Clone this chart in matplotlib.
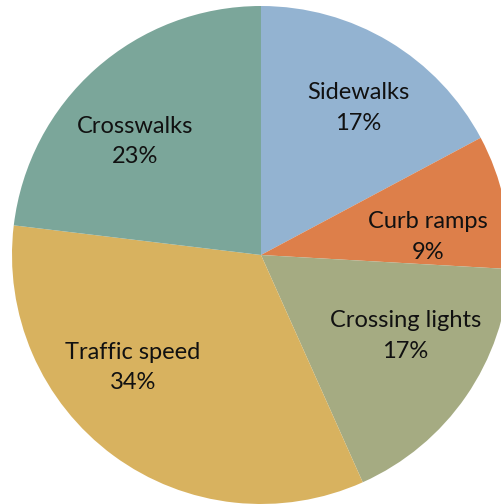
import matplotlib
matplotlib.use("Agg")
import matplotlib.pyplot as plt
import numpy as np

categories = ["Sidewalks", "Curb ramps", "Crossing lights", "Traffic speed", "Crosswalks"]
values = [17.2, 8.7, 17.4, 33.6, 23.1]
colors = ["#93B3D1", "#DD7F4A", "#A5AB82", "#D8B25F", "#7BA69A"]

# label centres in axes data units (pie radius = 1)
label_pos = [(0.39, 0.59), (0.67, 0.072), (0.58, -0.325), (-0.515, -0.452), (-0.505, 0.455)]

fig = plt.figure(figsize=(5.01, 5.04), dpi=100)
ax = fig.add_axes([12 / 501, 0 / 504, 498 / 501, 498 / 504])
wedges, _ = ax.pie(values, colors=colors, startangle=90, counterclock=False,
                   radius=1, wedgeprops=dict(linewidth=0))
ax.set_xlim(-1, 1)
ax.set_ylim(-1, 1)
ax.set_aspect("equal")
ax.axis("off")

total = sum(values)
for name, v, (x, y) in zip(categories, values, label_pos):
    pct = f"{v / total * 100:.0f}%"
    ax.text(x, y, f"{name}\n{pct}", ha="center", va="center", fontsize=17,
            family=["Lato", "DejaVu Sans"], color="#111111", linespacing=1.55)

fig.savefig("out.png", dpi=100)
